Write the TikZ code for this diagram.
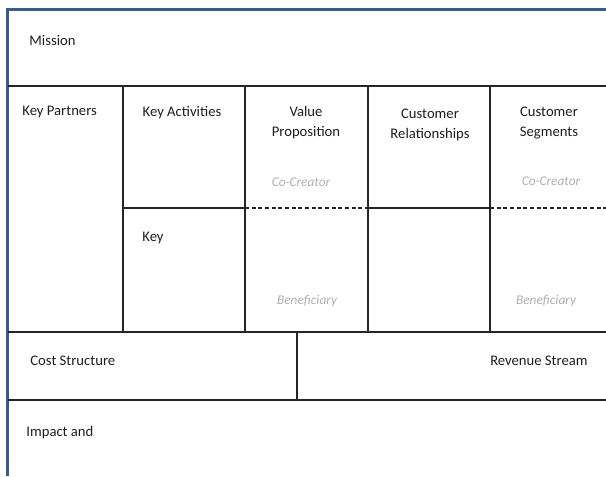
\documentclass[tikz,border=0pt]{standalone}
\usepackage{fontspec}
\setmainfont{Carlito}
\usepackage{tikz}
\usetikzlibrary{positioning,calc}
\definecolor{frameblue}{RGB}{56,93,138}
\definecolor{hintgray}{RGB}{175,175,175}
\definecolor{textdark}{RGB}{30,30,30}

\begin{document}
\begin{tikzpicture}[x=0.75pt, y=-0.75pt, semithick,
	grid/.style={draw=black!85, line width=0.8pt},
	split/.style={draw=black!85, line width=0.8pt, dash pattern=on 3pt off 2pt},
	title/.style={inner sep=0pt, text=textdark, font=\fontsize{11}{15}\selectfont, align=center},
	hint/.style={inner sep=0pt, text=hintgray, font=\fontsize{10}{12}\selectfont\itshape}]
	\useasboundingbox (0,0) rectangle (606,476);
	% frame
	\draw[frameblue, line width=2.4pt] (7.5,476) -- (7.5,9.5) -- (606,9.5);
	% rows
	\draw[grid] (7.5,86) -- (606,86);
	\draw[grid] (7.5,332) -- (606,332);
	\draw[grid] (7.5,400) -- (606,400);
	% columns
	\foreach \x in {123,245,368,490}
		\draw[grid] (\x,86) -- (\x,332);
	\draw[grid] (297,332) -- (297,400);
	% middle split
	\draw[grid] (123,208) -- (245,208);
	\draw[split] (245,208) -- (368,208);
	\draw[grid] (368,208) -- (490,208);
	\draw[split] (490,208) -- (606,208);
	% labels
	\node[title, anchor=base west] (mission)  at (29,45)  {Mission};
	\node[title, anchor=base west] (partners) at (22,115) {Key Partners};
	\node[title, anchor=base]      (activity) at (182,116) {Key Activities};
	\node[title, anchor=base]      (value)    at (306,136) {Value\\Proposition};
	\node[title, anchor=base]      (relation) at (430,138) {Customer\\Relationships};
	\node[title, anchor=base]      (segment)  at (549,136) {Customer\\Segments};
	\node[title, anchor=base west] (resource) at (142,241) {Key};
	\node[title, anchor=base west] (cost)     at (30,365) {Cost Structure};
	\node[title, anchor=base east] (revenue)  at (588,365) {Revenue Stream};
	\node[title, anchor=base west] (impact)   at (26,436) {Impact and};
	\node[hint, anchor=base] (cocreate)  at (301,186) {Co-Creator};
	\node[hint, anchor=base] (cocreate2) at (551,185) {Co-Creator};
	\node[hint, anchor=base] (benefit)   at (307,304) {Beneficiary};
	\node[hint, anchor=base] (benefit2)  at (546,304) {Beneficiary};
\end{tikzpicture}
\end{document}
